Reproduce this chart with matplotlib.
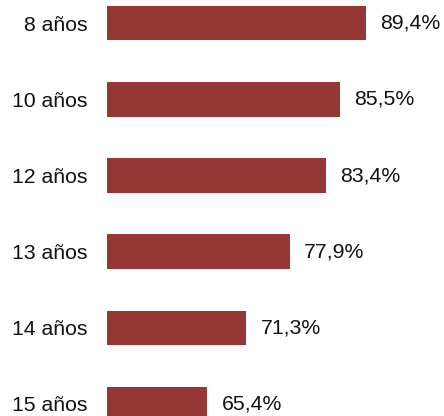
import matplotlib.pyplot as plt

ages = ['8 años', '10 años', '12 años', '13 años', '14 años', '15 años']
values = [89.4, 85.5, 83.4, 77.9, 71.3, 65.4]
value_labels = ['89,4%', '85,5%', '83,4%', '77,9%', '71,3%', '65,4%']

plt.rcParams['font.family'] = ['Liberation Sans', 'DejaVu Sans']

fig = plt.figure(figsize=(4.44, 4.16), dpi=100)
ax = fig.add_axes([106.7 / 444, 0, 1 - 106.7 / 444, 1])

pos = range(len(ages))
bars = ax.barh(pos, values, height=0.452, left=0, color='#953735')
ax.bar_label(bars, labels=value_labels, padding=10.2, fontsize=15.3, color='#111111')

ax.set_xlim(50.1, 101.3)
ax.set_ylim(5.16, -0.306)
ax.set_yticks(list(pos))
ax.set_yticklabels(ages, fontsize=15.3, color='#111111')
ax.tick_params(axis='y', length=0, pad=13.6)
ax.set_xticks([])
for s in ax.spines.values():
    s.set_visible(False)

fig.savefig('out.png', dpi=100)
